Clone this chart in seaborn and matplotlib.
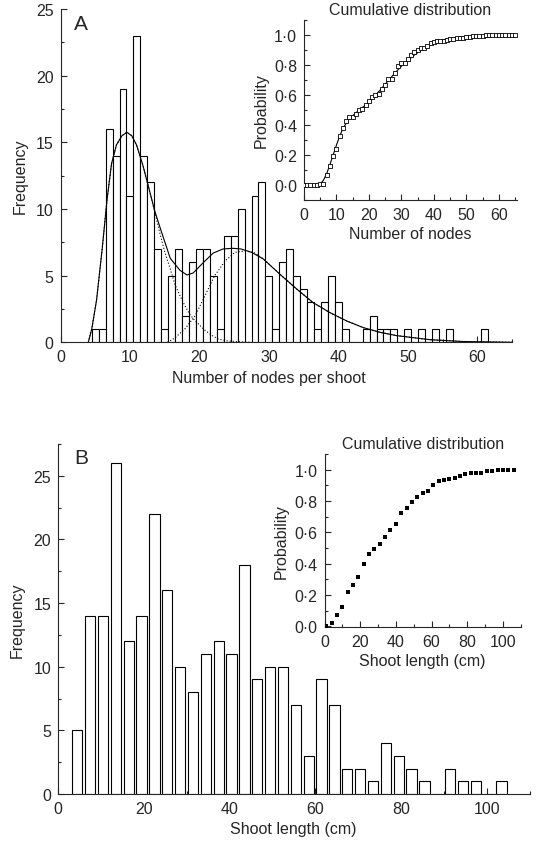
import numpy as np
import pandas as pd
import matplotlib
matplotlib.use('Agg')
import matplotlib.pyplot as plt
from matplotlib.ticker import MultipleLocator, FuncFormatter
import seaborn as sns

# ---- panel A: number of nodes per shoot (bins centred on whole numbers)
nodes = [5, 6, 7, 8, 9, 10, 11, 12, 13, 14, 15, 16, 17, 18, 19, 20, 21, 22, 23, 24,
         25, 26, 27, 28, 29, 30, 31, 32, 33, 34, 35, 36, 37, 38, 39, 40, 41, 42, 43, 44,
         45, 46, 47, 48, 49, 50, 51, 52, 53, 54, 55, 56, 57, 58, 59, 60, 61]
node_freq = [1, 1, 16, 14, 19, 11, 23, 14, 12, 7, 1, 5, 7, 2, 6, 7, 7, 5, 1, 8,
             8, 10, 0, 11, 12, 5, 1, 6, 7, 5, 4, 3, 1, 3, 5, 3, 1, 0, 0, 1,
             2, 1, 1, 1, 0, 1, 0, 1, 0, 1, 0, 1, 0, 0, 0, 0, 1]

# fitted mixture (solid) and its two components (dotted)
fit_x = [4.0, 4.5, 5.2, 6.0, 6.7, 7.35, 8.05, 8.85, 9.55, 10.25, 10.95, 11.9, 12.6,
         13.6, 14.4, 15.8, 17.2, 18.2, 19.1, 20.6, 22.0, 23.4, 24.8, 26.0, 27.5, 29.2,
         31.6, 34.0, 36.3, 38.7, 41.2, 43.6, 46.0, 48.4, 53.1, 57.9, 65.0]
fit_y = [0.0, 1.0, 3.2, 7.0, 10.7, 13.4, 14.8, 15.5, 15.75, 15.5, 14.8, 13.2, 11.8,
         9.8, 8.5, 6.3, 5.4, 5.05, 5.2, 6.0, 6.7, 7.0, 7.05, 7.0, 6.75, 6.25,
         5.1, 4.0, 3.0, 2.25, 1.6, 1.1, 0.75, 0.5, 0.2, 0.06, 0.0]
comp1_x = [4.0, 4.5, 5.2, 6.0, 6.7, 7.35, 8.05, 8.85, 9.55, 10.25, 10.95, 11.9, 12.6,
           13.6, 14.4, 15.0, 15.8, 16.5, 17.2, 17.9, 18.6, 19.4, 20.8, 22.0, 22.7,
           23.8, 25.3, 27.3]
comp1_y = [0.0, 1.0, 3.2, 7.0, 10.7, 13.4, 14.8, 15.5, 15.75, 15.5, 14.8, 13.2, 11.8,
           9.7, 8.0, 6.8, 5.5, 4.3, 3.5, 2.75, 2.1, 1.6, 0.9, 0.45, 0.25,
           0.12, 0.05, 0.0]
comp2_x = [15.4, 16.4, 17.9, 19.4, 20.8, 22.2, 23.7, 25.1, 26.6, 28.0, 29.2,
           31.6, 34.0, 36.3, 38.7, 41.2, 43.6, 46.0, 48.4, 53.1, 57.9, 65.0]
comp2_y = [0.0, 0.3, 1.0, 2.0, 3.5, 5.0, 6.1, 6.75, 6.85, 6.7, 6.25,
           5.1, 4.0, 3.0, 2.25, 1.6, 1.1, 0.75, 0.5, 0.2, 0.06, 0.0]

# inset A: cumulative distribution
cum_nodes = [0, 1, 2, 3, 4, 5, 6, 7, 8, 9, 10, 11, 12, 13, 14, 15, 16, 17, 18, 19, 20, 21,
             22, 23, 24, 25, 26, 27, 28, 29, 30, 31, 32, 33, 34, 35, 36, 37, 38, 39, 40, 41,
             42, 43, 44, 45, 46, 47, 48, 49, 50, 51, 52, 53, 54, 55, 56, 57, 58, 59, 60, 61,
             62, 63, 64, 65]
cum_nodes_p = [0, 0, 0, 0, 0, 0.004, 0.008, 0.068, 0.122, 0.194, 0.236, 0.323, 0.376, 0.422,
               0.449, 0.452, 0.471, 0.498, 0.506, 0.529, 0.555, 0.582, 0.601, 0.605, 0.635,
               0.665, 0.703, 0.703, 0.745, 0.791, 0.810, 0.814, 0.837, 0.863, 0.882, 0.897,
               0.909, 0.913, 0.924, 0.943, 0.954, 0.958, 0.958, 0.958, 0.962, 0.970, 0.973,
               0.977, 0.981, 0.981, 0.985, 0.985, 0.989, 0.989, 0.992, 0.992, 0.996, 0.996,
               0.996, 0.996, 0.996, 1.0, 1.0, 1.0, 1.0, 1.0]
cum_fit_x = [4, 5, 6, 7, 8, 9, 10, 11, 12, 13, 14, 16, 18, 20, 22, 24, 26, 28, 30, 32,
             34, 36, 38, 40, 42, 45, 50, 55, 60, 65]
cum_fit_y = [0.0, 0.005, 0.03, 0.075, 0.135, 0.2, 0.265, 0.325, 0.375, 0.41, 0.44, 0.48,
             0.515, 0.55, 0.595, 0.645, 0.695, 0.745, 0.79, 0.83, 0.865, 0.895, 0.92,
             0.945, 0.96, 0.975, 0.99, 0.996, 0.999, 1.0]

# ---- panel B: shoot length (3 cm bins)
length_mid = [4.5, 7.5, 10.5, 13.5, 16.5, 19.5, 22.5, 25.5, 28.5, 31.5, 34.5, 37.5,
              40.5, 43.5, 46.5, 49.5, 52.5, 55.5, 58.5, 61.5, 64.5, 67.5, 70.5, 73.5,
              76.5, 79.5, 82.5, 85.5, 88.5, 91.5, 94.5, 97.5, 100.5, 103.5]
length_freq = [5, 14, 14, 26, 12, 14, 22, 16, 10, 8, 11, 12,
               11, 18, 9, 10, 10, 7, 3, 9, 7, 2, 2, 1,
               4, 3, 2, 1, 0, 2, 1, 1, 0, 1]

# inset B: cumulative distribution
cum_len = [1, 4, 7, 10, 13, 16, 19, 22, 25, 28, 31, 34, 37, 40, 43, 46, 49, 52,
           55, 58, 61, 64, 67, 70, 73, 76, 79, 82, 85, 88, 91, 94, 97, 100, 103, 106]
cum_len_p = [0, 0.019, 0.071, 0.123, 0.220, 0.265, 0.317, 0.399, 0.459, 0.496, 0.526,
             0.567, 0.612, 0.653, 0.720, 0.754, 0.791, 0.828, 0.854, 0.866, 0.899,
             0.925, 0.933, 0.940, 0.944, 0.959, 0.970, 0.978, 0.981, 0.981, 0.989,
             0.993, 0.996, 0.996, 1.0, 1.0]

sns.set_style('ticks')
plt.rcParams['font.family'] = ['Liberation Sans', 'DejaVu Sans']
plt.rcParams['font.size'] = 11.5
plt.rcParams['axes.linewidth'] = 0.8

W, H = 536, 853
fig = plt.figure(figsize=(W / 100, H / 100), dpi=100)


def px_axes(left, top, right, bottom):
    return fig.add_axes([left / W, 1 - bottom / H, (right - left) / W, (bottom - top) / H])


dot_fmt = FuncFormatter(lambda v, p: f'{v:.1f}'.replace('.', '\u00b7'))


def style(ax, xmaj, xmin, ymaj, ymin):
    sns.despine(ax=ax)
    ax.xaxis.set_major_locator(MultipleLocator(xmaj))
    ax.xaxis.set_minor_locator(MultipleLocator(xmin))
    ax.yaxis.set_major_locator(MultipleLocator(ymaj))
    ax.yaxis.set_minor_locator(MultipleLocator(ymin))
    ax.tick_params(which='both', direction='in', width=0.8, labelsize=11.5, pad=5)
    ax.tick_params(which='major', length=4)
    ax.tick_params(which='minor', length=2.5)
    ax.patch.set_alpha(0)


# ---- panel A
axA = px_axes(60.5, 10, 512, 343.3)
sns.barplot(x=nodes, y=node_freq, native_scale=True, width=1.0, orient='x',
            color='white', saturation=1, edgecolor='black', linewidth=0.8,
            errorbar=None, ax=axA)
sns.lineplot(x=comp1_x, y=comp1_y, color='black', linewidth=0.8,
             linestyle=(0, (1, 1.8)), ax=axA)
sns.lineplot(x=comp2_x, y=comp2_y, color='black', linewidth=0.8,
             linestyle=(0, (1, 1.8)), ax=axA)
sns.lineplot(x=fit_x, y=fit_y, color='black', linewidth=0.8, ax=axA)
axA.set_xlim(0, 65)
axA.set_ylim(0, 25)
style(axA, 10, 5, 5, 2.5)
axA.set_xlabel('Number of nodes per shoot', x=0.461, labelpad=4)
axA.set_ylabel('Frequency', labelpad=6)
axA.text(0.03, 0.985, 'A', transform=axA.transAxes, fontsize=15, va='top', ha='left')

# inset A
insA = px_axes(304, 20.7, 516.8, 200.7)
sns.lineplot(x=cum_fit_x, y=cum_fit_y, color='black', linewidth=0.8, ax=insA)
sns.scatterplot(x=cum_nodes, y=cum_nodes_p, marker='s', s=11, color='white',
                edgecolor='black', linewidth=0.6, zorder=3, ax=insA)
insA.set_xlim(0, 65.5)
insA.set_ylim(-0.1, 1.1)
style(insA, 10, 5, 0.2, 0.1)
insA.yaxis.set_major_formatter(dot_fmt)
insA.set_title('Cumulative distribution', fontsize=11.5, pad=4)
insA.set_xlabel('Number of nodes', labelpad=3)
insA.set_ylabel('Probability', labelpad=4)

# ---- panel B
axB = px_axes(58, 445, 529.5, 795)
sns.barplot(x=length_mid, y=length_freq, native_scale=True, width=0.8, orient='x',
            color='white', saturation=1, edgecolor='black', linewidth=0.8,
            errorbar=None, ax=axB)
axB.set_xlim(0, 110)
axB.set_ylim(0, 27.5)
style(axB, 20, 10, 5, 2.5)
axB.set_xlabel('Shoot length (cm)', labelpad=4)
axB.set_ylabel('Frequency', labelpad=6)
axB.text(0.035, 0.99, 'B', transform=axB.transAxes, fontsize=15, va='top', ha='left')

# inset B
insB = px_axes(324.5, 455, 520.7, 628)
sns.scatterplot(x=cum_len, y=cum_len_p, marker='s', s=10, color='black',
                linewidth=0, zorder=3, ax=insB)
insB.set_xlim(0, 110)
insB.set_ylim(-0.005, 1.1)
style(insB, 20, 10, 0.2, 0.1)
insB.yaxis.set_major_formatter(dot_fmt)
insB.set_title('Cumulative distribution', fontsize=11.5, pad=4)
insB.set_xlabel('Shoot length (cm)', labelpad=3)
insB.set_ylabel('Probability', labelpad=4)

fig.savefig('out.png', dpi=100)
